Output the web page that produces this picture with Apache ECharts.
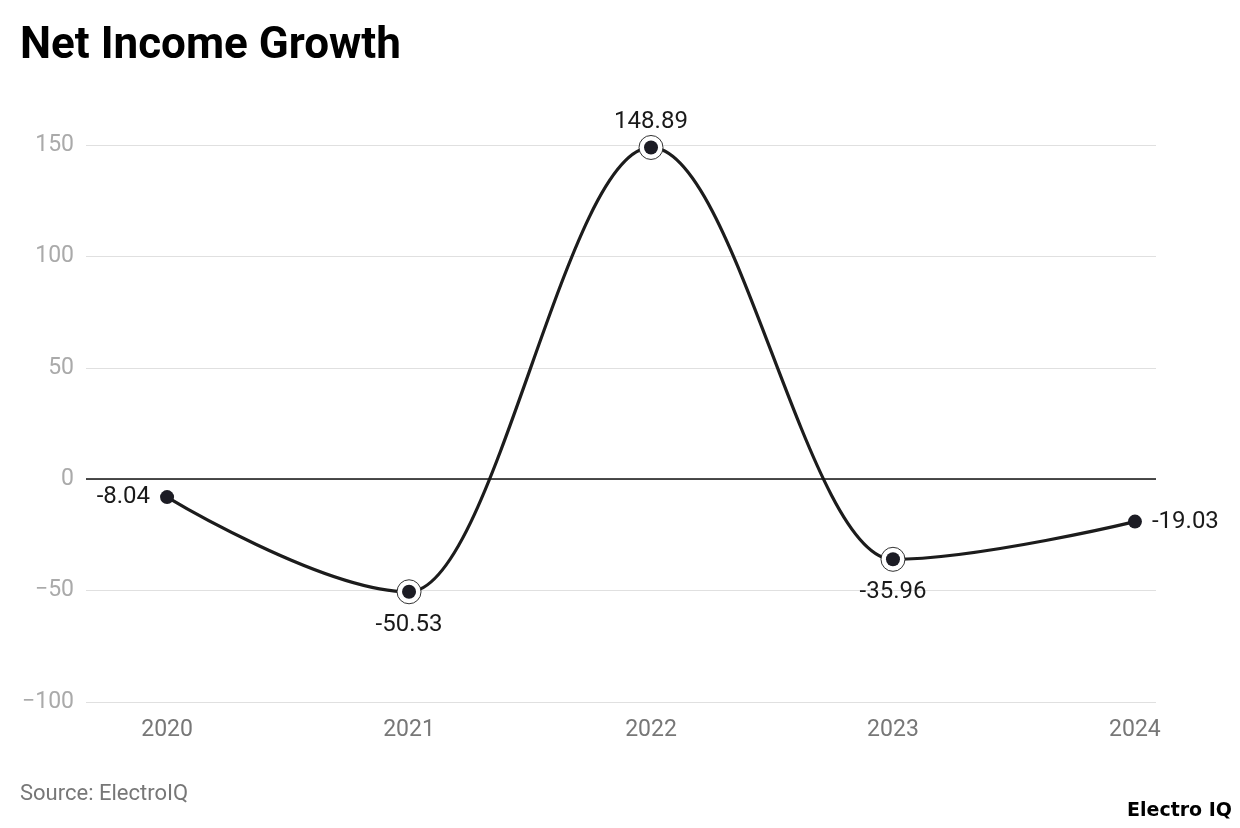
<!DOCTYPE html>
<html><head><meta charset="utf-8">
<script src="https://cdn.jsdelivr.net/npm/echarts@6/dist/echarts.min.js"></script>
<style>html,body{margin:0;padding:0;background:#fff}#c{width:1240px;height:828px}</style>
</head><body><div id="c"></div>
<script>
const years = [2020, 2021, 2022, 2023, 2024];
const growth = [-8.04, -50.53, 148.89, -35.96, -19.03];
const ringYears = [2021, 2022, 2023];
const ringValues = [-50.53, 148.89, -35.96];
const labelPositions = ['left', 'bottom', 'top', 'bottom', 'right'];
const labelDistances = [10, 14, 6, 14, 10];
const yTicks = [-100, -50, 0, 50, 100, 150];

const lineData = years.map((y, i) => [y, growth[i]]);
const dotData = years.map((y, i) => ({value: [y, growth[i]], label: {position: labelPositions[i], distance: labelDistances[i]}}));
const ringData = ringYears.map((y, i) => [y, ringValues[i]]);

const chart = echarts.init(document.getElementById('c'));
chart.setOption({
  animation: false,
  textStyle: {fontFamily: 'Roboto'},
  title: {text: 'Net Income Growth', left: 20, top: 25, padding: 0,
    textStyle: {fontFamily: 'Roboto', fontWeight: 'bold', fontSize: 44, color: '#000'}},
  grid: {left: 86, right: 84, top: 145, bottom: 126},
  xAxis: {type: 'value', min: 2019.665, max: 2024.087,
    axisLine: {show: false}, axisTick: {show: false}, splitLine: {show: false},
    axisLabel: {customValues: years, color: '#777', fontSize: 23, margin: 17, formatter: v => String(v)}},
  yAxis: {type: 'value', min: yTicks[0], max: yTicks[yTicks.length-1], interval: 50,
    axisLine: {show: false}, axisTick: {show: false},
    splitLine: {lineStyle: {color: '#e0e0e0', width: 1.2}},
    axisLabel: {color: '#aaa', fontSize: 23, margin: 12, formatter: v => String(v).replace('-', '\u2212')}},
  series: [
    {type: 'line', data: lineData, smooth: 0.35, smoothMonotone: 'x', showSymbol: false, z: 2,
     lineStyle: {color: '#1c1c1c', width: 3.2},
     markLine: {silent: true, symbol: 'none', label: {show: false},
       lineStyle: {color: '#111', width: 1.6, type: 'solid'}, data: [{yAxis: 0}]}},
    {type: 'scatter', data: ringData, symbol: 'circle', symbolSize: 24, z: 3,
     itemStyle: {color: '#fff', borderColor: '#1c1c1c', borderWidth: 0.9, opacity: 1}},
    {type: 'scatter', data: dotData, symbol: 'circle', symbolSize: 14, z: 4,
     itemStyle: {color: '#1c1c24', opacity: 1},
     label: {show: true, fontSize: 24, color: '#1a1a1a',
       formatter: p => p.value[1].toFixed(2)}}
  ],
  graphic: [
    {type: 'text', left: 20, top: 783, style: {text: 'Source: ElectroIQ', fontSize: 22, fill: '#777', fontFamily: 'Roboto'}},
    {type: 'text', right: 8, top: 802, style: {text: 'Electro IQ', fontSize: 19, fontWeight: 'bold', fill: '#000', fontFamily: 'DejaVu Sans'}}
  ]
});
</script></body></html>
